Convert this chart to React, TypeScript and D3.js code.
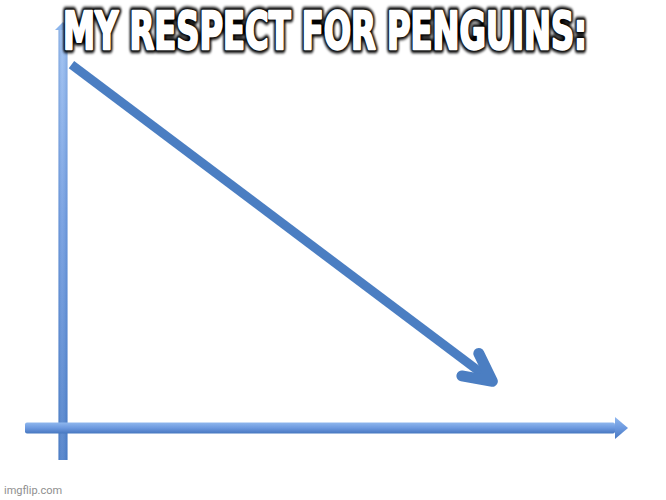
import { useEffect, useRef, useState } from 'react';
import * as d3 from 'd3';

// meme "chart": respect level over time (0-100 on both axes)
const timeline = [1.5, 76];
const respect = [89.5, 11.5];
const title = 'MY RESPECT FOR PENGUINS:';
const watermark = 'imgflip.com';

const W = 666;
const H = 500;
const titleWidth = 524;

const x = d3.scaleLinear().domain([0, 100]).range([63, 628]);
const y = d3.scaleLinear().domain([0, 100]).range([428, 22]);

const points: [number, number][] = timeline.map((t, i) => [x(t), y(respect[i])]);

const App = () => {
    const measureRef = useRef<SVGTextElement>(null);
    const [squeeze, setSqueeze] = useState(0.85);

    useEffect(() => {
        const node = measureRef.current;
        if (!node) return;
        const w = node.getComputedTextLength();
        if (w > 0) setSqueeze(titleWidth / w);
    }, []);

    const [x0, x1] = x.range();
    const [y0, y1] = y.range();

    // trend line + chevron head
    const line = d3.line();
    const [sx, sy] = points[0];
    const [ex, ey] = points[points.length - 1];
    const back = Math.atan2(sy - ey, sx - ex);
    const armLen = 31;
    const armAngle = (27 * Math.PI) / 180;
    const armA: [number, number] = [ex + armLen * Math.cos(back + armAngle), ey + armLen * Math.sin(back + armAngle)];
    const armB: [number, number] = [ex + armLen * Math.cos(back - armAngle), ey + armLen * Math.sin(back - armAngle)];
    const shaftEnd: [number, number] = [ex + 4 * Math.cos(back), ey + 4 * Math.sin(back)];

    const xAxisLeft = x0 - 38;
    const yAxisBottom = y0 + 32;

    const titleFont = "Impact, 'Liberation Sans Narrow', 'DejaVu Sans Condensed', 'Arial Narrow', sans-serif";

    return (
        <div style={{ position: 'fixed', left: 0, top: 0, width: W, height: H, background: '#fff' }}>
            <svg width={W} height={H}>
                <defs>
                    <linearGradient id="yGrad" x1="0" y1="0" x2="0" y2="1">
                        <stop offset="0%" stopColor="#9cc0f2" />
                        <stop offset="45%" stopColor="#6f9be0" />
                        <stop offset="100%" stopColor="#4a7dc8" />
                    </linearGradient>
                    <linearGradient id="yShade" x1="0" y1="0" x2="1" y2="0">
                        <stop offset="0%" stopColor="#2d5fa8" stopOpacity={0.25} />
                        <stop offset="40%" stopColor="#ffffff" stopOpacity={0.1} />
                        <stop offset="100%" stopColor="#2d5fa8" stopOpacity={0.2} />
                    </linearGradient>
                    <linearGradient id="xGrad" x1="0" y1="0" x2="0" y2="1">
                        <stop offset="0%" stopColor="#8fb7ee" />
                        <stop offset="50%" stopColor="#6c99df" />
                        <stop offset="100%" stopColor="#4777c0" />
                    </linearGradient>
                    <filter id="glow" x="-20%" y="-80%" width="140%" height="260%">
                        <feGaussianBlur stdDeviation="1.8" />
                    </filter>
                    <filter id="soft" x="-5%" y="-5%" width="110%" height="110%">
                        <feGaussianBlur stdDeviation="0.5" />
                    </filter>
                </defs>

                {/* y axis */}
                <g filter="url(#soft)">
                    <rect x={x0 - 4.5} y={y1 + 6} width={9} height={yAxisBottom - y1 - 6} fill="url(#yGrad)" />
                    <rect x={x0 - 4.5} y={y1 + 6} width={9} height={yAxisBottom - y1 - 6} fill="url(#yShade)" />
                    <polygon points={`${x0 - 8},${y1 + 8} ${x0},${y1} ${x0 + 8},${y1 + 8}`} fill="#8cb5ec" />
                </g>

                {/* x axis */}
                <g filter="url(#soft)">
                    <rect x={xAxisLeft} y={y0 - 5.5} width={x1 - 13 - xAxisLeft} height={11} rx={2} fill="url(#xGrad)" />
                    <polygon
                        points={`${x1 - 13},${y0 - 11} ${x1},${y0} ${x1 - 13},${y0 + 11}`}
                        fill="url(#xGrad)"
                    />
                </g>

                {/* trend */}
                <g stroke="#4b7ec2" fill="none" strokeLinejoin="round">
                    <path d={line([points[0], shaftEnd]) ?? ''} strokeWidth={9} strokeLinecap="butt" />
                    <path d={line([armA, [ex, ey], armB]) ?? ''} strokeWidth={11} strokeLinecap="round" />
                </g>

                {/* title */}
                <text
                    ref={measureRef}
                    x={0}
                    y={-100}
                    fontFamily={titleFont}
                    fontWeight="bold"
                    fontSize={52}
                    visibility="hidden"
                >
                    {title}
                </text>
                <g
                    transform={`translate(325,49) scale(${squeeze},1)`}
                    fontFamily={titleFont}
                    fontWeight="bold"
                    fontSize={52}
                    textAnchor="middle"
                >
                    <text
                        fill="#000"
                        stroke="#000"
                        strokeWidth={8}
                        strokeLinejoin="round"
                        filter="url(#glow)"
                    >
                        {title}
                    </text>
                    <text fill="#fff" stroke="#fff" strokeWidth={2.4} strokeLinejoin="round">
                        {title}
                    </text>
                </g>

                <text x={4} y={494} fontFamily="Roboto, 'Noto Sans', sans-serif" fontSize={11} fill="#8e8e8e">
                    {watermark}
                </text>
            </svg>
        </div>
    );
};

export default App;
